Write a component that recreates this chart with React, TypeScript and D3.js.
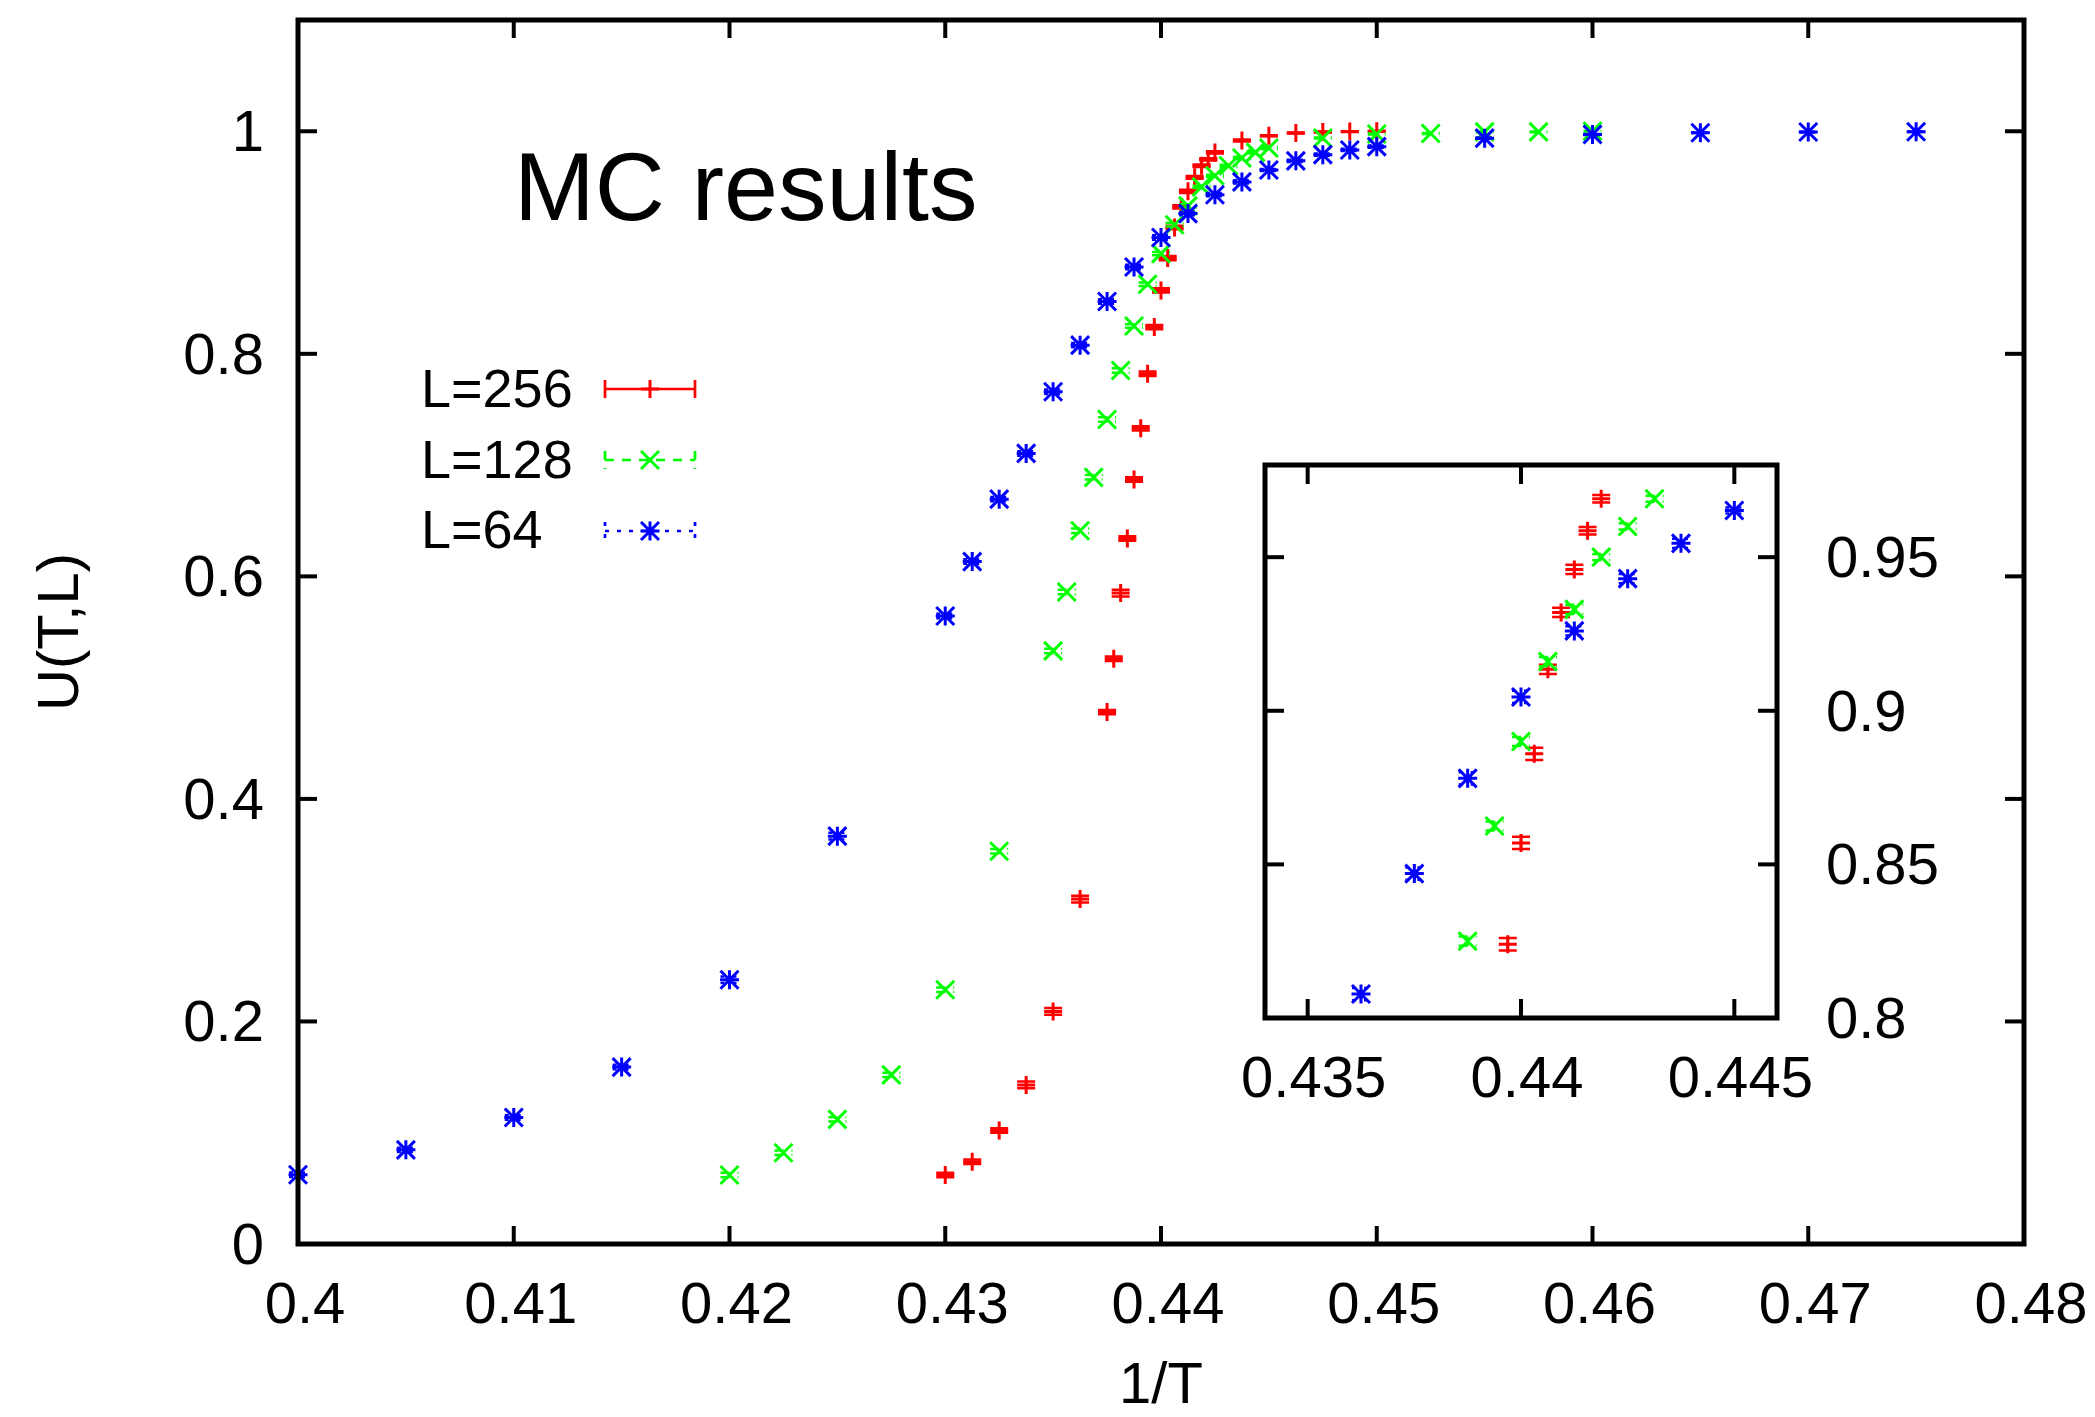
import React from 'react';
import * as d3 from 'd3';

// ---- data ----
const L256_X = [0.43, 0.43125, 0.4325, 0.43375, 0.435, 0.43625, 0.4375, 0.43781, 0.43813, 0.43844, 0.43875, 0.43906, 0.43938, 0.43969, 0.44, 0.44031, 0.44063, 0.44094, 0.44125, 0.44156, 0.44188, 0.44219, 0.4425, 0.44375, 0.445, 0.44625, 0.4475, 0.44875, 0.45];
const L256_Y = [0.062, 0.074, 0.102, 0.143, 0.209, 0.31, 0.478, 0.526, 0.585, 0.634, 0.687, 0.733, 0.782, 0.824, 0.857, 0.886, 0.9135, 0.932, 0.946, 0.9586, 0.969, 0.9748, 0.981, 0.9917, 0.996, 0.9985, 0.9993, 0.9997, 1.0];
const L256_ERR = [0.002, 0.002, 0.002, 0.003, 0.003, 0.003, 0.002, 0.002, 0.003, 0.002, 0.002, 0.002, 0.002, 0.002, 0.002, 0.002, 0.0015, 0.0015, 0.0015, 0.0012, 0.0012, 0.001, 0.001, 0.001, 0.0005, 0.0005, 0.0005, 0.0003, 0.0003];

const L128_X = [0.42, 0.4225, 0.425, 0.4275, 0.43, 0.4325, 0.435, 0.43563, 0.43625, 0.43688, 0.4375, 0.43813, 0.43875, 0.43938, 0.44, 0.44063, 0.44125, 0.44188, 0.4425, 0.44313, 0.44375, 0.44438, 0.445, 0.4475, 0.45, 0.4525, 0.455, 0.4575, 0.46];
const L128_Y = [0.062, 0.082, 0.112, 0.152, 0.2285, 0.353, 0.533, 0.586, 0.641, 0.689, 0.741, 0.785, 0.825, 0.8625, 0.89, 0.916, 0.933, 0.95, 0.96, 0.969, 0.976, 0.981, 0.985, 0.994, 0.9975, 0.998, 0.9995, 0.9995, 1.0];
const L128_ERR = [0.002, 0.002, 0.002, 0.002, 0.002, 0.002, 0.002, 0.002, 0.002, 0.002, 0.002, 0.002, 0.0015, 0.0015, 0.0015, 0.0015, 0.0015, 0.001, 0.001, 0.001, 0.001, 0.001, 0.001, 0.0005, 0.0005, 0.0004, 0.0003, 0.0003, 0.0002];

const L64_X = [0.4, 0.405, 0.41, 0.415, 0.42, 0.425, 0.43, 0.43125, 0.4325, 0.43375, 0.435, 0.43625, 0.4375, 0.43875, 0.44, 0.44125, 0.4425, 0.44375, 0.445, 0.44625, 0.4475, 0.44875, 0.45, 0.455, 0.46, 0.465, 0.47, 0.475];
const L64_Y = [0.0622, 0.0846, 0.1137, 0.159, 0.2375, 0.3665, 0.5644, 0.6133, 0.6694, 0.7105, 0.7659, 0.8078, 0.847, 0.878, 0.9045, 0.926, 0.943, 0.9545, 0.9652, 0.9734, 0.979, 0.9832, 0.9862, 0.9938, 0.9971, 0.9987, 0.9993, 0.9996];
const L64_ERR = [0.002, 0.002, 0.002, 0.002, 0.003, 0.003, 0.002, 0.002, 0.002, 0.002, 0.002, 0.002, 0.002, 0.002, 0.002, 0.0015, 0.0015, 0.0015, 0.001, 0.001, 0.001, 0.001, 0.001, 0.0005, 0.0005, 0.0003, 0.0003, 0.0002];

const SERIES_NAMES = ['L=256', 'L=128', 'L=64'];
const SERIES_COLORS = ['#ff0000', '#00ff00', '#0000ff'];
const SERIES_MARKERS = ['plus', 'cross', 'star'];
const SERIES_DASH = [null, '9,8', '4,8'];

const X_TICKS = [0.4, 0.41, 0.42, 0.43, 0.44, 0.45, 0.46, 0.47, 0.48];
const X_TICK_LABELS = ['0.4', '0.41', '0.42', '0.43', '0.44', '0.45', '0.46', '0.47', '0.48'];
const Y_TICKS = [0, 0.2, 0.4, 0.6, 0.8, 1];
const Y_TICK_LABELS = ['0', '0.2', '0.4', '0.6', '0.8', '1'];
const INSET_X_TICKS = [0.435, 0.44, 0.445];
const INSET_X_TICK_LABELS = ['0.435', '0.44', '0.445'];
const INSET_Y_TICKS = [0.8, 0.85, 0.9, 0.95];
const INSET_Y_TICK_LABELS = ['0.8', '0.85', '0.9', '0.95'];

const FONT = '"Liberation Sans", Arial, Helvetica, sans-serif';

function markerPath(type: string, cx: number, cy: number) {
  const s = 9;
  const p = `M${cx - s},${cy}H${cx + s}M${cx},${cy - s}V${cy + s}`;
  const c = `M${cx - s},${cy - s}L${cx + s},${cy + s}M${cx - s},${cy + s}L${cx + s},${cy - s}`;
  if (type === 'plus') return p;
  if (type === 'cross') return c;
  const s2 = 9.5;
  return `M${cx - s2},${cy}H${cx + s2}M${cx},${cy - s2}V${cy + s2}` + c;
}

export default function App() {
  const W = 2095, H = 1417;
  const x = d3.scaleLinear().domain([0.4, 0.48]).range([298, 2024]);
  const y = d3.scaleLinear().domain([0, 1.1]).range([1244, 20]);
  const ix = d3.scaleLinear().domain([0.434, 0.446]).range([1265, 1777]);
  const iy = d3.scaleLinear().domain([0.8, 0.98]).range([1018, 465]);

  const series = [
    { xs: L256_X, ys: L256_Y, es: L256_ERR },
    { xs: L128_X, ys: L128_Y, es: L128_ERR },
    { xs: L64_X, ys: L64_Y, es: L64_ERR },
  ].map((s, i) => ({ ...s, name: SERIES_NAMES[i], color: SERIES_COLORS[i], marker: SERIES_MARKERS[i], dash: SERIES_DASH[i] }));

  const drawPoints = (sx: any, sy: any, clip: null | { x0: number; x1: number; y0: number; y1: number }, prefix: string) =>
    series.map((s, si) => (
      <g key={prefix + si}>
        {s.xs.map((xv, i) => {
          const cx = sx(xv), cy = sy(s.ys[i]);
          if (clip) {
            const m = 18;
            if (cx < clip.x0 + m || cx > clip.x1 - m || cy < clip.y0 + m || cy > clip.y1 - m) return null;
          }
          const yl = sy(s.ys[i] - s.es[i]), yh = sy(s.ys[i] + s.es[i]);
          const eb = `M${cx},${yl}V${yh}M${cx - 9},${yl}H${cx + 9}M${cx - 9},${yh}H${cx + 9}`;
          return (
            <g key={i}>
              <path d={eb} stroke={s.color} strokeWidth={2.5} fill="none" strokeDasharray={s.dash || undefined} />
              <path d={markerPath(s.marker, cx, cy)} stroke={s.color} strokeWidth={3} fill="none" />
            </g>
          );
        })}
      </g>
    ));

  const legendY = [389, 460, 531];
  const legendBase = [407, 478, 548];

  return (
    <svg width={W} height={H} style={{ position: 'absolute', left: 0, top: 0, background: '#fff' }} fontFamily={FONT}>
      <rect x={0} y={0} width={W} height={H} fill="#fff" />

      {/* main data */}
      {drawPoints(x, y, null, 'm')}

      {/* main ticks */}
      {X_TICKS.map((t, i) => (
        <g key={'xt' + i}>
          <line x1={x(t)} x2={x(t)} y1={1244} y2={1226} stroke="#000" strokeWidth={4} />
          <line x1={x(t)} x2={x(t)} y1={20} y2={38} stroke="#000" strokeWidth={4} />
          <text x={x(t) + 7} y={1323} fontSize={58} textAnchor="middle">{X_TICK_LABELS[i]}</text>
        </g>
      ))}
      {Y_TICKS.map((t, i) => (
        <g key={'yt' + i}>
          <line x1={298} x2={317} y1={y(t)} y2={y(t)} stroke="#000" strokeWidth={4} />
          <line x1={2024} x2={2005} y1={y(t)} y2={y(t)} stroke="#000" strokeWidth={4} />
          <text x={264} y={y(t) + 20} fontSize={58} textAnchor="end">{Y_TICK_LABELS[i]}</text>
        </g>
      ))}
      <rect x={298} y={20} width={2024 - 298} height={1244 - 20} fill="none" stroke="#000" strokeWidth={5} />

      {/* axis labels */}
      <text x={1161} y={1403} fontSize={58} textAnchor="middle">1/T</text>
      <text transform="translate(78,632) rotate(-90)" fontSize={58} textAnchor="middle">U(T,L)</text>

      {/* title */}
      <text x={514} y={220} fontSize={97}>MC results</text>

      {/* legend */}
      {series.map((s, i) => (
        <g key={'lg' + i}>
          <text x={421} y={legendBase[i]} fontSize={54}>{s.name}</text>
          <path d={`M605,${legendY[i]}H695M605,${legendY[i] - 9}V${legendY[i] + 9}M695,${legendY[i] - 9}V${legendY[i] + 9}`}
            stroke={s.color} strokeWidth={2.7} fill="none" strokeDasharray={s.dash || undefined} />
          <path d={markerPath(s.marker, 650, legendY[i])} stroke={s.color} strokeWidth={3} fill="none" />
        </g>
      ))}

      {/* inset */}
      <rect x={1265} y={465} width={512} height={553} fill="#fff" />
      {drawPoints(ix, iy, { x0: 1265, x1: 1777, y0: 465, y1: 1018 }, 'i')}
      {INSET_X_TICKS.map((t, i) => (
        <g key={'ixt' + i}>
          <line x1={ix(t)} x2={ix(t)} y1={1018} y2={999} stroke="#000" strokeWidth={4} />
          <line x1={ix(t)} x2={ix(t)} y1={465} y2={484} stroke="#000" strokeWidth={4} />
          <text x={ix(t) + 6} y={1097} fontSize={58} textAnchor="middle">{INSET_X_TICK_LABELS[i]}</text>
        </g>
      ))}
      {INSET_Y_TICKS.map((t, i) => (
        <g key={'iyt' + i}>
          <line x1={1265} x2={1284} y1={iy(t)} y2={iy(t)} stroke="#000" strokeWidth={4} />
          <line x1={1777} x2={1758} y1={iy(t)} y2={iy(t)} stroke="#000" strokeWidth={4} />
          <text x={1826} y={iy(t) + 20} fontSize={58} textAnchor="start">{INSET_Y_TICK_LABELS[i]}</text>
        </g>
      ))}
      <rect x={1265} y={465} width={512} height={553} fill="none" stroke="#000" strokeWidth={5} />
    </svg>
  );
}
